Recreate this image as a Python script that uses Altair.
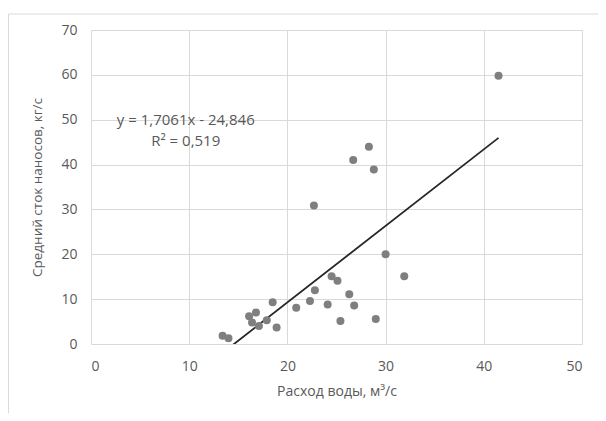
import altair as alt
import pandas as pd

# Data
water_flow = [13.4, 14.0, 16.1, 16.4, 16.8, 17.1, 17.9, 18.5, 18.9, 20.9,
              22.3, 22.7, 22.8, 24.1, 24.5, 25.1, 25.4, 26.3, 26.7, 26.8,
              28.3, 28.8, 29.0, 30.0, 31.9, 41.5]
sediment = [1.85, 1.3, 6.2, 4.8, 7.0, 4.0, 5.3, 9.3, 3.7, 8.1,
            9.6, 30.9, 12.0, 8.8, 15.1, 14.1, 5.1, 11.1, 41.0, 8.6,
            44.0, 38.9, 5.6, 20.0, 15.1, 59.8]

slope = 1.7061
intercept = -24.846
equation_text = "y = 1,7061x - 24,846"
r2_text = "R² = 0,519"
x_ticks = [0, 10, 20, 30, 40, 50]
y_ticks = [0, 10, 20, 30, 40, 50, 60, 70]
x_title = "Расход воды, м³/с"
y_title = "Средний сток наносов, кг/с"

FONT = "Open Sans"
GRAY = "#595959"

df = pd.DataFrame({"x": water_flow, "y": sediment})
x_min, x_max = min(water_flow), max(water_flow)
trend = pd.DataFrame({"x": [x_min, x_max],
                      "y": [slope * x_min + intercept, slope * x_max + intercept]})

xscale = alt.Scale(domain=[0, 50], nice=False)
yscale = alt.Scale(domain=[0, 70], nice=False)

xaxis = alt.Axis(values=x_ticks, title=x_title, grid=True, gridColor="#d9d9d9",
                 domain=False, ticks=False, labelColor=GRAY, titleColor=GRAY,
                 labelFont=FONT, titleFont=FONT, labelFontSize=14, titleFontSize=14,
                 titleFontWeight="normal", labelPadding=15, titlePadding=11)
yaxis = alt.Axis(values=y_ticks, title=y_title, grid=True, gridColor="#d9d9d9",
                 domain=False, ticks=False, labelColor=GRAY, titleColor=GRAY,
                 labelFont=FONT, titleFont=FONT, labelFontSize=14, titleFontSize=13.5,
                 titleFontWeight="normal", labelPadding=14, titlePadding=16)

points = alt.Chart(df).mark_circle(size=64, color="#7f7f7f", opacity=1).encode(
    x=alt.X("x:Q", scale=xscale, axis=xaxis),
    y=alt.Y("y:Q", scale=yscale, axis=yaxis),
)

line = alt.Chart(trend).mark_line(color="#262626", strokeWidth=1.8, clip=True).encode(
    x=alt.X("x:Q", scale=xscale),
    y=alt.Y("y:Q", scale=yscale),
)

labels = pd.DataFrame({"x": [9.65, 9.65], "y": [50, 45.2], "t": [equation_text, r2_text]})
eq = alt.Chart(labels).mark_text(font=FONT, fontSize=15, color=GRAY, align="center",
                                 baseline="middle").encode(
    x=alt.X("x:Q", scale=xscale),
    y=alt.Y("y:Q", scale=yscale),
    text="t:N",
)

frame = alt.Chart(pd.DataFrame({"a": [0]})).mark_rect(
    fill=None, stroke="#d9d9d9", strokeWidth=1).encode(
    x=alt.value(-82.5), x2=alt.value(700), y=alt.value(-16), y2=alt.value(600))

chart = alt.layer(frame, line, points, eq).properties(
    width=491, height=314,
    autosize=alt.AutoSizeParams(type="none"),
    padding={"left": 83, "top": 22, "right": 16, "bottom": 69},
).configure_view(stroke=None)

chart.save("out.html", embed_options={"renderer": "svg", "actions": False})
